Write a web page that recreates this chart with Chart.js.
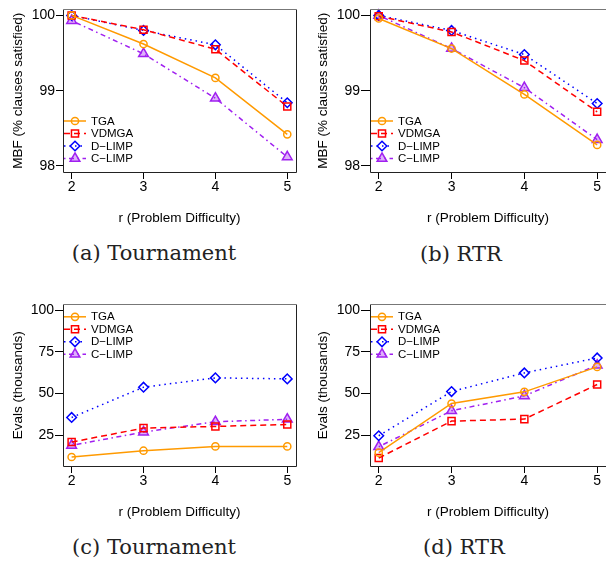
<!DOCTYPE html>
<html>
<head>
<meta charset="utf-8">
<script src="https://cdn.jsdelivr.net/npm/chart.js@4.4.1/dist/chart.umd.min.js"></script>
<style>
  html, body { margin: 0; padding: 0; background: #fff; width: 606px; height: 561px; overflow: hidden; }
  body { position: relative; }
  canvas { position: absolute; }
  .cap { position: absolute; font-family: "DejaVu Serif", "Liberation Serif", serif; font-size: 21px; line-height: 21px;
         color: #222; white-space: nowrap; transform: translateX(-50%); }
</style>
</head>
<body>
<canvas id="chartA" width="303" height="228" style="left:0;top:0"></canvas>
<canvas id="chartB" width="310" height="228" style="left:303px;top:0"></canvas>
<canvas id="chartC" width="303" height="227" style="left:0;top:295px"></canvas>
<canvas id="chartD" width="310" height="227" style="left:303px;top:295px"></canvas>
<div class="cap" style="left:154px;top:243px">(a) Tournament</div>
<div class="cap" style="left:461px;top:244px">(b) RTR</div>
<div class="cap" style="left:154px;top:537px">(c) Tournament</div>
<div class="cap" style="left:464px;top:537px">(d) RTR</div>
<script>
// problem difficulty r
const rValues = [2, 3, 4, 5];
const seriesNames = ['TGA', 'VDMGA', 'D\u2212LIMP', 'C\u2212LIMP'];

// MBF (% clauses satisfied)
const mbfTicks = [98, 99, 100];
const mbfLimits = [98, 100];
const mbfTournamentTGA   = [100.0, 99.62, 99.17, 98.42];
const mbfTournamentVDMGA = [100.0, 99.81, 99.55, 98.79];
const mbfTournamentDLIMP = [100.0, 99.80, 99.61, 98.84];
const mbfTournamentCLIMP = [99.93, 99.49, 98.90, 98.12];
const mbfRtrTGA   = [99.96, 99.56, 98.95, 98.28];
const mbfRtrVDMGA = [99.99, 99.78, 99.40, 98.72];
const mbfRtrDLIMP = [100.0, 99.80, 99.48, 98.83];
const mbfRtrCLIMP = [100.0, 99.56, 99.04, 98.35];

// Evals (thousands)
const evalsTicks = [25, 50, 75, 100];
const evalsLimits = [10, 100];
const evalsTournamentTGA   = [11.8, 15.6, 18.2, 18.2];
const evalsTournamentVDMGA = [20.8, 29.2, 30.2, 31.4];
const evalsTournamentDLIMP = [35.6, 53.8, 59.4, 58.8];
const evalsTournamentCLIMP = [18.8, 26.8, 33.0, 34.5];
const evalsRtrTGA   = [14.4, 44.0, 51.0, 66.0];
const evalsRtrVDMGA = [11.2, 33.4, 34.6, 55.4];
const evalsRtrDLIMP = [24.6, 51.2, 62.4, 71.4];
const evalsRtrCLIMP = [18.0, 39.6, 48.6, 67.0];

const sansFont = '"Liberation Sans", Arial, Helvetica, sans-serif';

// line / marker look for each series (R style)
const seriesStyles = [
    { color: '#FF9A00', dash: [], point: 'circle', radius: 3.6, fill: 'rgba(255,255,255,0)' },
    { color: '#FF0000', dash: [6, 4], point: 'rect', radius: 5, fill: 'rgba(255,255,255,0)' },
    { color: '#0000FF', dash: [1.5, 4], point: 'rectRot', radius: 4.8, fill: 'rgba(255,255,255,0)' },
    { color: '#A020F0', dash: [1.5, 3.5, 5, 3.5], point: 'triangle', radius: 5.6, fill: 'rgba(160,32,240,0.35)' }
];

// R pads axis limits by 4% on each side
function padded(lim) {
    const d = (lim[1] - lim[0]) * 0.04;
    return [lim[0] - d, lim[1] + d];
}

function drawMarker(ctx, style, x, y) {
    ctx.save();
    ctx.setLineDash([]);
    ctx.lineWidth = 1.5;
    ctx.strokeStyle = style.color;
    ctx.fillStyle = style.fill;
    if (Chart.helpers && Chart.helpers.drawPoint) {
        Chart.helpers.drawPoint(ctx, { pointStyle: style.point, radius: style.radius, borderWidth: 1.5, rotation: 0 }, x, y);
    } else {
        ctx.beginPath();
        ctx.arc(x, y, style.radius, 0, Math.PI * 2);
        ctx.fill();
        ctx.stroke();
    }
    ctx.restore();
}

// frame round the plotting region, like R's box()
const framePlugin = {
    id: 'frame',
    afterDatasetsDraw(chart) {
        const a = chart.chartArea;
        const ctx = chart.ctx;
        const l = Math.round(a.left) + 0.5, r = Math.round(a.right) + 0.5;
        const t = Math.round(a.top) + 0.5, b = Math.round(a.bottom) + 0.5;
        ctx.save();
        ctx.lineWidth = 1;
        ctx.setLineDash([]);
        ctx.strokeStyle = '#222';
        ctx.beginPath();
        ctx.moveTo(l, t); ctx.lineTo(l, b); ctx.lineTo(r, b); ctx.lineTo(r, t);
        ctx.stroke();
        ctx.strokeStyle = '#777';
        ctx.beginPath();
        ctx.moveTo(l, t); ctx.lineTo(r, t);
        ctx.stroke();
        ctx.restore();
    }
};

// legend inside the plot, no border
const insetLegend = {
    id: 'insetLegend',
    afterDatasetsDraw(chart, args, opts) {
        const a = chart.chartArea;
        const ctx = chart.ctx;
        const n = chart.data.datasets.length;
        const step = 12.5;
        const y0 = opts.where === 'bottom' ? a.bottom - 13.5 - (n - 1) * step : a.top + 12.4;
        chart.data.datasets.forEach((ds, i) => {
            const st = seriesStyles[i];
            const y = y0 + i * step;
            const x = a.left + 1;
            ctx.save();
            ctx.strokeStyle = st.color;
            ctx.lineWidth = 1.5;
            ctx.setLineDash(st.dash);
            ctx.beginPath();
            ctx.moveTo(x, y); ctx.lineTo(x + 22, y);
            ctx.stroke();
            ctx.restore();
            drawMarker(ctx, st, x + 11, y);
            ctx.save();
            ctx.fillStyle = '#000';
            ctx.font = '11.5px ' + sansFont;
            ctx.textBaseline = 'middle';
            ctx.textAlign = 'left';
            ctx.fillText(ds.label, x + 27, y + 0.5);
            ctx.restore();
        });
    }
};

function makePanel(id, cfg) {
    const canvas = document.getElementById(id);
    const H = canvas.height;
    const xr = padded([rValues[0], rValues[rValues.length - 1]]);
    const yr = padded(cfg.limits);
    const datasets = cfg.series.map((vals, i) => {
        const st = seriesStyles[i];
        return {
            label: seriesNames[i],
            data: rValues.map((r, j) => ({ x: r, y: vals[j] })),
            borderColor: st.color,
            backgroundColor: st.fill,
            borderWidth: 1.5,
            borderDash: st.dash,
            pointStyle: st.point,
            pointRadius: st.radius,
            pointBorderWidth: 1.5,
            pointBorderColor: st.color,
            pointBackgroundColor: st.fill,
            tension: 0,
            fill: false,
            clip: 8
        };
    });
    // draw the first series on top, like R draws later lines over earlier ones
    datasets.forEach((d, i) => { d.order = i; });

    return new Chart(canvas.getContext('2d'), {
        type: 'line',
        data: { datasets },
        options: {
            responsive: false,
            animation: false,
            events: [],
            layout: { padding: { left: 0, top: cfg.top, right: cfg.right, bottom: 0 } },
            plugins: {
                legend: { display: false },
                tooltip: { enabled: false },
                insetLegend: { where: cfg.legend }
            },
            scales: {
                x: {
                    type: 'linear',
                    min: xr[0],
                    max: xr[1],
                    afterBuildTicks: s => { s.ticks = rValues.map(v => ({ value: v })); },
                    afterFit: s => { s.height = H - cfg.bottom; },
                    grid: { drawOnChartArea: false, drawTicks: true, tickLength: 7, tickColor: '#000', color: '#000' },
                    border: { display: false },
                    ticks: { padding: 0, color: '#000', font: { family: sansFont, size: 14 }, callback: v => String(v), maxRotation: 0 },
                    title: { display: true, text: 'r (Problem Difficulty)', color: '#000',
                             font: { family: sansFont, size: 13.5 }, padding: { top: 0, bottom: 1.6 } }
                },
                y: {
                    type: 'linear',
                    min: yr[0],
                    max: yr[1],
                    afterBuildTicks: s => { s.ticks = cfg.ticks.map(v => ({ value: v })); },
                    afterFit: s => { s.width = cfg.left; },
                    grid: { drawOnChartArea: false, drawTicks: true, tickLength: cfg.tickLen, tickColor: '#000', color: '#000' },
                    border: { display: false },
                    ticks: { padding: 1, color: '#000', font: { family: sansFont, size: 14 }, callback: v => String(v) },
                    title: { display: true, text: cfg.yTitle, color: '#000',
                             font: { family: sansFont, size: 13.5 }, padding: { top: cfg.titleGap, bottom: 0 } }
                }
            }
        },
        plugins: [framePlugin, insetLegend]
    });
}

makePanel('chartA', {
    yTitle: 'MBF (% clauses satisfied)', limits: mbfLimits, ticks: mbfTicks, legend: 'bottom',
    series: [mbfTournamentTGA, mbfTournamentVDMGA, mbfTournamentDLIMP, mbfTournamentCLIMP],
    left: 63, top: 9, right: 2, bottom: 172, tickLen: 7, titleGap: 10
});
makePanel('chartB', {
    yTitle: 'MBF (% clauses satisfied)', limits: mbfLimits, ticks: mbfTicks, legend: 'bottom',
    series: [mbfRtrTGA, mbfRtrVDMGA, mbfRtrDLIMP, mbfRtrCLIMP],
    left: 67, top: 9, right: 6, bottom: 172, tickLen: 9, titleGap: 12.5
});
makePanel('chartC', {
    yTitle: 'Evals (thousands)', limits: evalsLimits, ticks: evalsTicks, legend: 'top',
    series: [evalsTournamentTGA, evalsTournamentVDMGA, evalsTournamentDLIMP, evalsTournamentCLIMP],
    left: 63, top: 9, right: 2, bottom: 171, tickLen: 8, titleGap: 10
});
makePanel('chartD', {
    yTitle: 'Evals (thousands)', limits: evalsLimits, ticks: evalsTicks, legend: 'top',
    series: [evalsRtrTGA, evalsRtrVDMGA, evalsRtrDLIMP, evalsRtrCLIMP],
    left: 67, top: 9, right: 6, bottom: 171, tickLen: 9, titleGap: 12.5
});
</script>
</body>
</html>
